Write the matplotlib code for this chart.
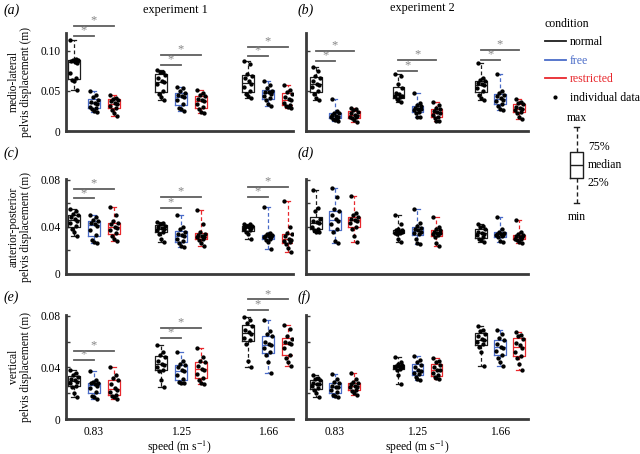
import numpy as np
import matplotlib.pyplot as plt
from matplotlib.lines import Line2D

plt.rcParams['font.family'] = ['Liberation Serif', 'DejaVu Serif']
plt.rcParams['mathtext.fontset'] = 'stix'
plt.rcParams['font.size'] = 8.3

SPEEDS = ['0.83', '1.25', '1.66']
CONDITIONS = ['normal', 'free', 'restricted']
COLORS = ['#1e1e1e', '#4a6cc8', '#e8282d']
SPINE = '#3a3a3a'
SIG = '#5e5e5e'
STAR = '#858585'

# individual data, [speed][condition] -> values (m)
ml_exp1 = [
    [[0.113, 0.090, 0.089, 0.088, 0.087, 0.086, 0.085, 0.072, 0.066, 0.063, 0.062, 0.051],
     [0.050, 0.045, 0.042, 0.039, 0.036, 0.035, 0.034, 0.030, 0.029, 0.027, 0.025, 0.024],
     [0.045, 0.041, 0.040, 0.039, 0.037, 0.035, 0.033, 0.031, 0.029, 0.026, 0.022, 0.019]],
    [[0.076, 0.074, 0.073, 0.070, 0.066, 0.062, 0.061, 0.058, 0.050, 0.046, 0.042, 0.038],
     [0.055, 0.053, 0.050, 0.047, 0.045, 0.043, 0.042, 0.038, 0.034, 0.029, 0.027, 0.025],
     [0.051, 0.047, 0.045, 0.043, 0.040, 0.038, 0.037, 0.033, 0.030, 0.027, 0.024, 0.023]],
    [[0.087, 0.084, 0.071, 0.069, 0.066, 0.062, 0.058, 0.055, 0.050, 0.046, 0.043, 0.041],
     [0.062, 0.057, 0.053, 0.050, 0.049, 0.048, 0.046, 0.044, 0.041, 0.038, 0.033, 0.031],
     [0.057, 0.051, 0.049, 0.046, 0.042, 0.040, 0.038, 0.035, 0.032, 0.031, 0.030, 0.029]],
]
ml_exp2 = [
    [[0.080, 0.075, 0.069, 0.066, 0.062, 0.059, 0.057, 0.055, 0.050, 0.046, 0.041, 0.038],
     [0.040, 0.025, 0.023, 0.022, 0.020, 0.019, 0.018, 0.017, 0.016, 0.015, 0.014, 0.013],
     [0.029, 0.028, 0.026, 0.024, 0.022, 0.020, 0.019, 0.018, 0.017, 0.016, 0.014, 0.011]],
    [[0.071, 0.068, 0.058, 0.054, 0.047, 0.046, 0.044, 0.043, 0.042, 0.040, 0.038, 0.036],
     [0.047, 0.035, 0.032, 0.031, 0.029, 0.028, 0.028, 0.026, 0.024, 0.022, 0.018, 0.017],
     [0.036, 0.032, 0.029, 0.027, 0.025, 0.024, 0.022, 0.020, 0.018, 0.016, 0.013, 0.012]],
    [[0.085, 0.066, 0.064, 0.062, 0.060, 0.058, 0.057, 0.054, 0.050, 0.045, 0.041, 0.039],
     [0.071, 0.050, 0.047, 0.045, 0.043, 0.041, 0.039, 0.037, 0.034, 0.031, 0.028, 0.026],
     [0.040, 0.036, 0.035, 0.033, 0.030, 0.029, 0.027, 0.026, 0.024, 0.022, 0.017, 0.015]],
]
ap_exp1 = [
    [[0.055, 0.053, 0.051, 0.050, 0.048, 0.047, 0.045, 0.043, 0.041, 0.038, 0.036, 0.032],
     [0.050, 0.048, 0.046, 0.045, 0.043, 0.042, 0.041, 0.037, 0.033, 0.029, 0.027, 0.026],
     [0.057, 0.050, 0.045, 0.043, 0.042, 0.040, 0.039, 0.037, 0.035, 0.032, 0.030, 0.028]],
    [[0.044, 0.043, 0.042, 0.041, 0.040, 0.039, 0.038, 0.037, 0.036, 0.034, 0.030, 0.027],
     [0.050, 0.040, 0.038, 0.036, 0.034, 0.033, 0.032, 0.030, 0.028, 0.026, 0.024, 0.023],
     [0.054, 0.042, 0.036, 0.034, 0.033, 0.032, 0.031, 0.031, 0.030, 0.029, 0.026, 0.024]],
    [[0.042, 0.042, 0.041, 0.041, 0.040, 0.040, 0.039, 0.038, 0.037, 0.036, 0.034, 0.030],
     [0.057, 0.035, 0.034, 0.033, 0.032, 0.032, 0.031, 0.031, 0.030, 0.029, 0.027, 0.021],
     [0.062, 0.040, 0.035, 0.034, 0.032, 0.030, 0.029, 0.028, 0.027, 0.025, 0.022, 0.019]],
]
ap_exp2 = [
    [[0.071, 0.056, 0.053, 0.047, 0.045, 0.044, 0.043, 0.040, 0.038, 0.037, 0.036, 0.036],
     [0.073, 0.065, 0.055, 0.053, 0.050, 0.047, 0.045, 0.042, 0.038, 0.036, 0.028, 0.026],
     [0.066, 0.052, 0.050, 0.048, 0.047, 0.046, 0.045, 0.043, 0.040, 0.038, 0.032, 0.027]],
    [[0.050, 0.042, 0.038, 0.037, 0.037, 0.036, 0.036, 0.035, 0.035, 0.034, 0.030, 0.027],
     [0.055, 0.043, 0.041, 0.039, 0.038, 0.037, 0.036, 0.035, 0.034, 0.030, 0.026, 0.025],
     [0.048, 0.040, 0.038, 0.037, 0.036, 0.035, 0.035, 0.034, 0.033, 0.031, 0.026, 0.024]],
    [[0.042, 0.041, 0.040, 0.038, 0.036, 0.035, 0.034, 0.033, 0.031, 0.030, 0.029, 0.027],
     [0.048, 0.038, 0.036, 0.035, 0.034, 0.034, 0.033, 0.033, 0.032, 0.031, 0.028, 0.027],
     [0.046, 0.036, 0.034, 0.033, 0.032, 0.031, 0.031, 0.030, 0.030, 0.029, 0.027, 0.026]],
]
vt_exp1 = [
    [[0.038, 0.036, 0.034, 0.033, 0.031, 0.030, 0.029, 0.028, 0.026, 0.025, 0.020, 0.017],
     [0.037, 0.030, 0.029, 0.028, 0.028, 0.027, 0.026, 0.024, 0.021, 0.018, 0.017, 0.016],
     [0.040, 0.034, 0.032, 0.030, 0.027, 0.024, 0.023, 0.021, 0.019, 0.018, 0.017, 0.016]],
    [[0.057, 0.052, 0.050, 0.048, 0.045, 0.043, 0.042, 0.040, 0.038, 0.037, 0.030, 0.025],
     [0.052, 0.045, 0.043, 0.042, 0.040, 0.038, 0.037, 0.034, 0.031, 0.029, 0.028, 0.028],
     [0.055, 0.048, 0.045, 0.044, 0.041, 0.039, 0.038, 0.035, 0.032, 0.030, 0.028, 0.027]],
    [[0.079, 0.077, 0.074, 0.072, 0.069, 0.067, 0.066, 0.063, 0.061, 0.058, 0.045, 0.040],
     [0.077, 0.068, 0.066, 0.064, 0.060, 0.058, 0.057, 0.055, 0.052, 0.050, 0.044, 0.036],
     [0.073, 0.070, 0.064, 0.062, 0.060, 0.059, 0.058, 0.055, 0.050, 0.047, 0.044, 0.041]],
]
vt_exp2 = [
    [[0.034, 0.032, 0.031, 0.030, 0.028, 0.027, 0.027, 0.026, 0.024, 0.023, 0.020, 0.017],
     [0.035, 0.031, 0.029, 0.028, 0.026, 0.025, 0.025, 0.023, 0.021, 0.019, 0.018, 0.017],
     [0.036, 0.031, 0.029, 0.028, 0.027, 0.026, 0.025, 0.025, 0.023, 0.022, 0.020, 0.019]],
    [[0.048, 0.044, 0.043, 0.042, 0.041, 0.041, 0.040, 0.040, 0.039, 0.038, 0.034, 0.027],
     [0.049, 0.046, 0.044, 0.042, 0.040, 0.038, 0.037, 0.036, 0.035, 0.033, 0.031, 0.030],
     [0.047, 0.045, 0.044, 0.042, 0.040, 0.038, 0.038, 0.036, 0.034, 0.033, 0.032, 0.031]],
    [[0.072, 0.069, 0.068, 0.066, 0.064, 0.062, 0.061, 0.060, 0.058, 0.056, 0.052, 0.041],
     [0.069, 0.066, 0.063, 0.061, 0.058, 0.056, 0.055, 0.053, 0.050, 0.047, 0.044, 0.041],
     [0.067, 0.065, 0.064, 0.062, 0.059, 0.057, 0.055, 0.052, 0.049, 0.047, 0.043, 0.038]],
]

# significance bar heights per speed: (normal-free, normal-restricted)
sig_ml1 = [(0.118, 0.131), (0.082, 0.095), (0.093, 0.105)]
sig_ml2 = [(0.0875, 0.100), (0.075, 0.088), (0.089, 0.101)]
sig_ap1 = [(0.064, 0.072), (0.056, 0.065), (0.065, 0.074)]
sig_vt1 = [(0.046, 0.053), (0.0627, 0.0705), (0.0847, 0.0925)]

OFFSETS = [-0.23, 0.0, 0.23]
JITTER = [-0.04, 0.03, -0.01, 0.045, -0.03, 0.01, 0.04, -0.045, 0.02, -0.02, 0.0, 0.035]

fig = plt.figure(figsize=(6.4, 4.54), dpi=100)

W, H = 640.0, 454.0
col_x = [(66, 227, (0.68, 3.29)), (306, 222, (0.65, 3.34))]
row_y = [(33, 131), (179, 274), (315, 419.3)]
tag_x = [4, 298]
tag_y = [10, 153, 297]

panels = [
    (0, 0, ml_exp1, sig_ml1, '(a)'), (0, 1, ml_exp2, sig_ml2, '(b)'),
    (1, 0, ap_exp1, sig_ap1, '(c)'), (1, 1, ap_exp2, None, '(d)'),
    (2, 0, vt_exp1, sig_vt1, '(e)'), (2, 1, vt_exp2, None, '(f)'),
]
ylabels = ['medio-lateral\npelvis displacement (m)',
           'anterior-posterior\npelvis displacement (m)',
           'vertical\npelvis displacement (m)']

for row, col, data, sig, tag in panels:
    x0, w, xl = col_x[col]
    top, bot = row_y[row]
    ax = fig.add_axes([x0 / W, 1 - bot / H, w / W, (bot - top) / H])

    for g, groups in enumerate(data):
        for c, vals in enumerate(groups):
            pos = g + 1 + OFFSETS[c]
            clr = COLORS[c]
            ax.boxplot([vals], positions=[pos], widths=0.14, whis=(0, 100),
                       showfliers=False, capwidths=0.06, manage_ticks=False,
                       boxprops=dict(color=clr, lw=0.9),
                       medianprops=dict(color=clr, lw=0.9),
                       whiskerprops=dict(color=clr, lw=0.9, ls=(0, (3, 2))),
                       capprops=dict(color=clr, lw=0.9))
            ax.plot(pos + np.array(JITTER[:len(vals)]), vals, 'o', color='k',
                    ms=2.1, zorder=3)

    # significance bars
    if sig is not None:
        for g, (h_free, h_res) in enumerate(sig):
            for c, h in ((1, h_free), (2, h_res)):
                xa, xb = g + 1 + OFFSETS[0], g + 1 + OFFSETS[c]
                ax.plot([xa, xb], [h, h], color=SIG, lw=1.3, clip_on=False)
                ax.annotate('*', xy=((xa + xb) / 2, h), xytext=(0, 4),
                            textcoords='offset points', ha='center', va='center',
                            color=STAR, fontsize=9, annotation_clip=False)

    ax.set_xlim(xl)
    if row == 0:
        ax.set_ylim(0, 0.122)
        ax.set_yticks([0, 0.05, 0.10])
        ax.set_yticklabels(['0', '0.05', '0.10'] if col == 0 else [])
    else:
        ax.set_ylim(0, 0.0805)
        ax.set_yticks([0, 0.02, 0.04, 0.06, 0.08])
        ax.set_yticklabels(['0', '', '0.04', '', '0.08'] if col == 0 else [])
    ax.set_xticks([1, 2, 3])
    if row == 2:
        ax.set_xticklabels(SPEEDS)
        ax.set_xlabel('speed (m s$^{-1}$)', labelpad=0)
    else:
        ax.set_xticklabels([])
    if col == 0:
        ax.set_ylabel(ylabels[row], linespacing=1.0, labelpad=6)

    for s in ['top', 'right']:
        ax.spines[s].set_visible(False)
    for s in ['left', 'bottom']:
        ax.spines[s].set_linewidth(2)
        ax.spines[s].set_color(SPINE)
    ax.tick_params(axis='y', direction='in', length=3, width=1, color=SPINE, pad=4)
    ax.tick_params(axis='x', length=0, pad=5)

    fig.text(tag_x[col] / W, 1 - tag_y[row] / H, tag, fontsize=10, style='italic',
             ha='left', va='center')

fig.text(175 / W, 1 - 10 / H, 'experiment 1', ha='center', va='center', fontsize=8.8)
fig.text(422 / W, 1 - 8 / H, 'experiment 2', ha='center', va='center', fontsize=8.8)

# condition legend
handles = [Line2D([], [], color=COLORS[0], lw=1.3),
           Line2D([], [], color=COLORS[1], lw=1.3),
           Line2D([], [], color=COLORS[2], lw=1.3),
           Line2D([], [], marker='o', ls='', color='k', ms=2.0)]
fig.legend(handles, CONDITIONS + ['individual data'], loc='upper left',
           bbox_to_anchor=(540 / W, 1 - 13 / H), frameon=False, title='condition',
           alignment='left', fontsize=8.5, title_fontsize=8.5, handlelength=1.8,
           handletextpad=0.3, labelspacing=0.55, borderaxespad=0,
           labelcolor=['k', COLORS[1], COLORS[2], 'k'])

# box key
kx = fig.add_axes([555 / W, 1 - 225 / H, 85 / W, 115 / H])
kx.set_xlim(555, 640)
kx.set_ylim(225, 110)
kx.axis('off')
key_stats = [dict(med=165, q1=178, q3=152, whislo=203, whishi=127)]
kx.bxp(key_stats, positions=[576.5], widths=13, showfliers=False, capwidths=5,
       manage_ticks=False,
       boxprops=dict(color='#1e1e1e', lw=1.0),
       medianprops=dict(color='#1e1e1e', lw=1.0),
       whiskerprops=dict(color='#1e1e1e', lw=1.0, ls=(0, (3, 2))),
       capprops=dict(color='#1e1e1e', lw=1.0))
kx.text(577, 118, 'max', ha='center', va='center', fontsize=8.5)
kx.text(577, 217, 'min', ha='center', va='center', fontsize=8.5)
kx.text(588, 147, '75%', ha='left', va='center', fontsize=8.5)
kx.text(588, 165, 'median', ha='left', va='center', fontsize=8.5)
kx.text(588, 183, '25%', ha='left', va='center', fontsize=8.5)

fig.savefig('out.png', dpi=100)
